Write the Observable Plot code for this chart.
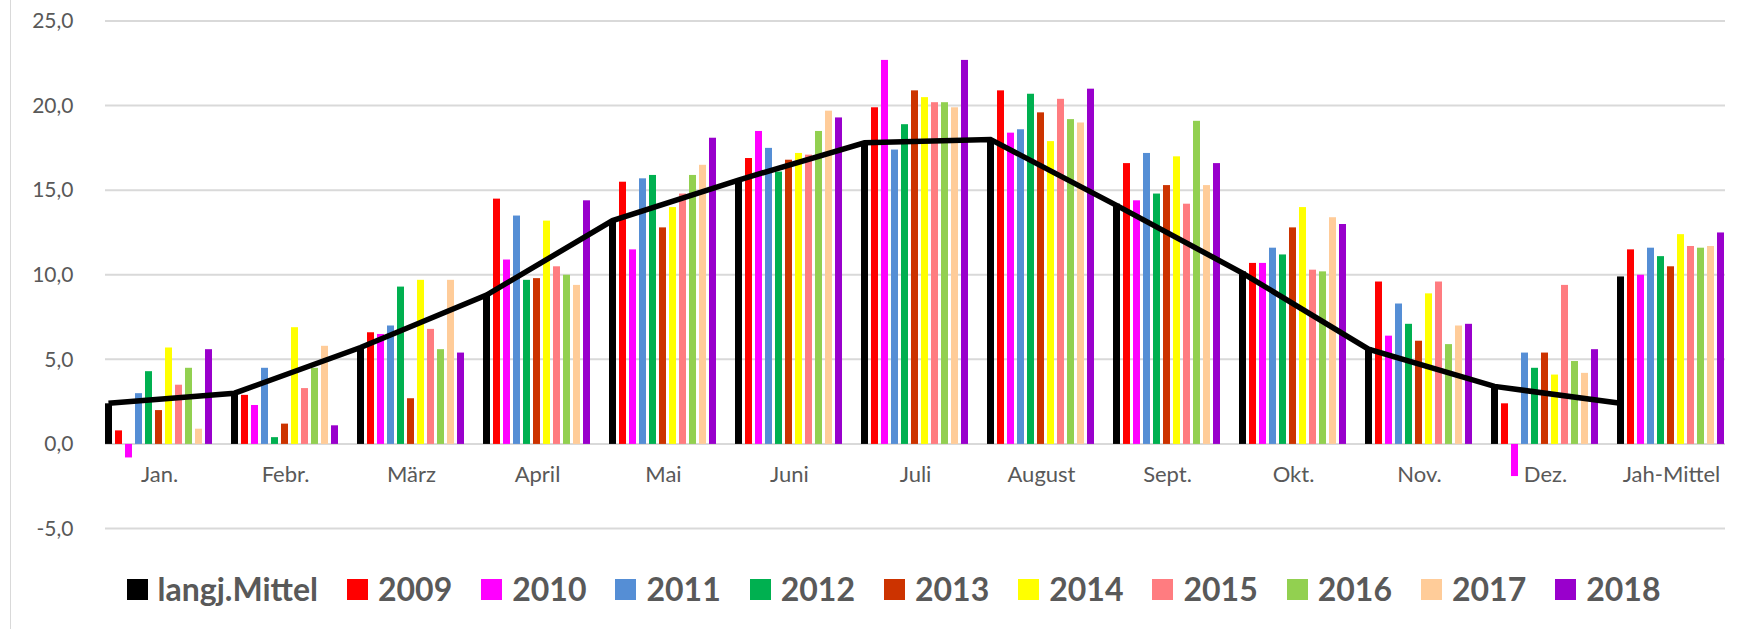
<!DOCTYPE html>
<html><head><meta charset="utf-8">
<script src="https://cdn.jsdelivr.net/npm/d3@7"></script>
<script src="https://cdn.jsdelivr.net/npm/@observablehq/plot@0.6"></script>
<style>
html,body{margin:0;padding:0;background:#fff;}
#wrap{position:relative;width:1739px;height:629px;overflow:hidden;font-family:Lato,sans-serif;background:#fff;}
#border{position:absolute;left:10px;top:0;width:1px;height:629px;background:#d9d9d9;}
#legend{display:flex;justify-content:center;align-items:center;height:88px;padding-left:48px;box-sizing:border-box;width:1739px;}
.item{display:flex;align-items:center;margin-right:29px;}
.item:last-child{margin-right:0}
.sw{width:21px;height:21px;margin-right:10px}
.lab{font-weight:700;font-size:32px;color:#595959;line-height:1;}
svg{display:block}
</style>
</head><body>
<div id="wrap"><div id="border"></div><div id="chart"></div><div id="legend"></div></div>
<script>
const months = ["Jan.","Febr.","März","April","Mai","Juni","Juli","August","Sept.","Okt.","Nov.","Dez.","Jah-Mittel"];
const seriesNames = ["langj.Mittel","2009","2010","2011","2012","2013","2014","2015","2016","2017","2018"];
const seriesColors = ["#000000","#FF0000","#FF00FF","#558ED5","#00B050","#CC3300","#FFFF00","#FF7C80","#92D050","#FFCC99","#9900CC"];

const langjMittel = [2.4, 3.0, 5.7, 8.8, 13.2, 15.6, 17.9, 18.0, 14.2, 10.2, 5.7, 3.5, 9.9];
const y2009 = [0.8, 2.9, 6.6, 14.5, 15.5, 16.9, 19.9, 20.9, 16.6, 10.7, 9.6, 2.4, 11.5];
const y2010 = [-0.8, 2.3, 6.5, 10.9, 11.5, 18.5, 22.7, 18.4, 14.4, 10.7, 6.4, -1.9, 10.0];
const y2011 = [3.0, 4.5, 7.0, 13.5, 15.7, 17.5, 17.4, 18.6, 17.2, 11.6, 8.3, 5.4, 11.6];
const y2012 = [4.3, 0.4, 9.3, 9.7, 15.9, 16.1, 18.9, 20.7, 14.8, 11.2, 7.1, 4.5, 11.1];
const y2013 = [2.0, 1.2, 2.7, 9.8, 12.8, 16.8, 20.9, 19.6, 15.3, 12.8, 6.1, 5.4, 10.5];
const y2014 = [5.7, 6.9, 9.7, 13.2, 14.0, 17.2, 20.5, 17.9, 17.0, 14.0, 8.9, 4.1, 12.4];
const y2015 = [3.5, 3.3, 6.8, 10.5, 14.8, 17.1, 20.2, 20.4, 14.2, 10.3, 9.6, 9.4, 11.7];
const y2016 = [4.5, 4.5, 5.6, 10.0, 15.9, 18.5, 20.2, 19.2, 19.1, 10.2, 5.9, 4.9, 11.6];
const y2017 = [0.9, 5.8, 9.7, 9.4, 16.5, 19.7, 19.9, 19.0, 15.3, 13.4, 7.0, 4.2, 11.7];
const y2018 = [5.6, 1.1, 5.4, 14.4, 18.1, 19.3, 22.7, 21.0, 16.6, 13.0, 7.1, 5.6, 12.5];
const seriesValues = [langjMittel, y2009, y2010, y2011, y2012, y2013, y2014, y2015, y2016, y2017, y2018];

// line series (langj.Mittel drawn as a line)
const trendValues = [2.4, 3.0, 5.7, 8.8, 13.2, 15.6, 17.8, 18.0, 14.1, 10.1, 5.6, 3.4, 2.4];
const yTicks = [-5, 0, 5, 10, 15, 20, 25];

const rows = [];
seriesNames.forEach((s, i) => months.forEach((m, j) => rows.push({month: m, series: s, value: seriesValues[i][j]})));
const trendRows = months.map((m, j) => ({month: m, value: trendValues[j]}));
const monthRows = months.map(m => ({month: m}));

const MARGIN_LEFT = 93;

const chart = Plot.plot({
  width: 1739, height: 545,
  marginLeft: MARGIN_LEFT, marginRight: 1, marginTop: 21, marginBottom: 16.5,
  style: {fontFamily: "Lato, sans-serif", fontSize: "21px", color: "#595959", background: "#fff", overflow: "visible"},
  fx: {domain: months, paddingInner: 0.142, paddingOuter: 0.068, axis: null, label: null},
  x: {domain: seriesNames, paddingInner: 0.26, paddingOuter: 0, axis: null, label: null},
  y: {domain: [-5, 25], axis: null, label: null},
  color: {domain: seriesNames, range: seriesColors},
  marks: [
    // horizontal gridlines across the whole frame
    Plot.frame({
      facet: "super",
      render(index, scales, values, dims) {
        const {y} = scales;
        const g = d3.create("svg:g");
        for (const t of yTicks) {
          g.append("line")
            .attr("x1", dims.marginLeft).attr("x2", dims.width - dims.marginRight)
            .attr("y1", y(t)).attr("y2", y(t))
            .attr("stroke", "#d9d9d9").attr("stroke-width", 2);
        }
        return g.node();
      }
    }),
    Plot.axisY(yTicks, {label: null, tickSize: 0, tickPadding: 32, tickFormat: d => d.toFixed(1).replace(".", ","), fontSize: 21, fill: "#595959"}),
    Plot.barY(rows, {fx: "month", x: "series", y: "value", fill: "series"}),
    Plot.text(monthRows, {fx: "month", y: 0, dy: 31, text: "month", fontSize: 22, fill: "#595959"}),
    // langj.Mittel line, through the black bars of each group
    Plot.frame({
      facet: "super",
      render(index, scales, values, dims) {
        const {fx, x, y} = scales;
        const off = x("langj.Mittel") + x.bandwidth() / 2 - MARGIN_LEFT;
        const pts = trendRows.map(d => [fx(d.month) + off, y(d.value)]);
        return d3.create("svg:path")
          .attr("d", d3.line()(pts))
          .attr("fill", "none").attr("stroke", "#000")
          .attr("stroke-width", 5.5).attr("stroke-linejoin", "miter").attr("stroke-linecap", "butt")
          .node();
      }
    })
  ]
});
document.getElementById("chart").appendChild(chart);

const legend = document.getElementById("legend");
seriesNames.forEach((s, i) => {
  const item = document.createElement("div"); item.className = "item";
  const sw = document.createElement("div"); sw.className = "sw"; sw.style.background = seriesColors[i];
  const lab = document.createElement("span"); lab.className = "lab"; lab.textContent = s;
  item.appendChild(sw); item.appendChild(lab); legend.appendChild(item);
});
</script>
</body></html>
